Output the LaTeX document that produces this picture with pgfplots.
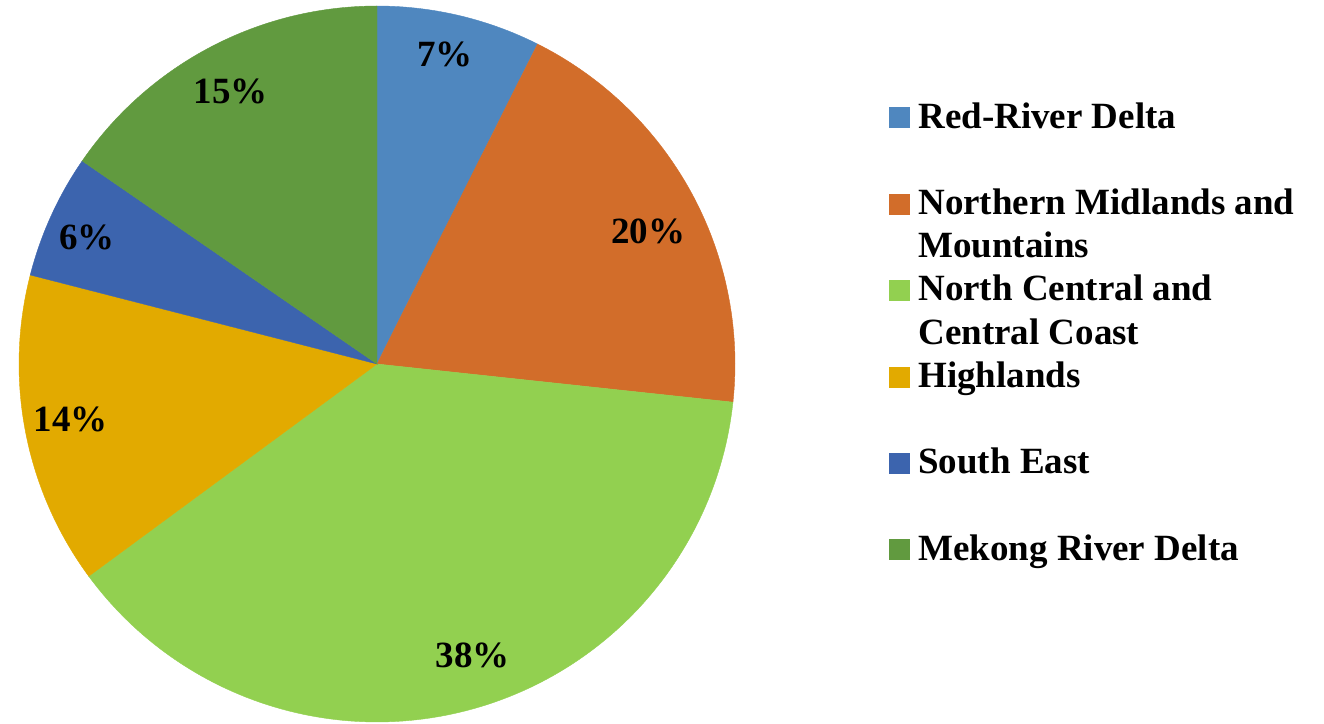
\documentclass[border=0pt]{standalone}
\usepackage{pgfplots}
\pgfplotsset{compat=1.18}
\usepackage{pgfplotstable}
\usepackage{fontspec}
\setmainfont{Liberation Serif}

\definecolor{rrd}{HTML}{4F87BF}
\definecolor{nmm}{HTML}{D26D2A}
\definecolor{ncc}{HTML}{92D050}
\definecolor{hl}{HTML}{E2AA00}
\definecolor{se}{HTML}{3C64AE}
\definecolor{mrd}{HTML}{619A3F}

% shares in percent, clockwise from 12 o'clock
\pgfplotstableread{
region share
RRD 7.4
NMM 19.3
NCC 38.2
HL 14.1
SE 5.6
MRD 15.4
}\shares
\pgfplotstableread{
x y label
0.190 0.866 7
0.757 0.369 20
0.268 -0.813 38
-0.855 -0.154 14
-0.810 0.353 6
-0.408 0.760 15
}\labels

% slice boundaries (degrees)
\pgfplotstablegetelem{0}{share}\of\shares \pgfmathsetmacro\bA{90-3.6*\pgfplotsretval}
\pgfplotstablegetelem{1}{share}\of\shares \pgfmathsetmacro\bB{\bA-3.6*\pgfplotsretval}
\pgfplotstablegetelem{2}{share}\of\shares \pgfmathsetmacro\bC{\bB-3.6*\pgfplotsretval}
\pgfplotstablegetelem{3}{share}\of\shares \pgfmathsetmacro\bD{\bC-3.6*\pgfplotsretval}
\pgfplotstablegetelem{4}{share}\of\shares \pgfmathsetmacro\bE{\bD-3.6*\pgfplotsretval}

\begin{document}
\begin{tikzpicture}
\begin{axis}[
    at={(188.5bp,180bp)}, anchor=center,
    x=179bp, y=179bp,
    xmin=-1, xmax=1, ymin=-1, ymax=1,
    hide axis, enlargelimits=false, clip=false,
    legend cell align=left,
    legend image code/.code={\fill[#1] (0bp,-5bp) rectangle (10bp,5bp);},
    legend style={at={(1.215,0.8687)}, anchor=north west,
        draw=none, fill=none, inner sep=0pt, outer sep=0pt,
        row sep=25.7bp, column sep=4.5bp,
        font=\fontsize{18.5bp}{21.6bp}\selectfont\bfseries,
        nodes={inner sep=0pt, outer sep=0pt, text height=14bp, text depth=3.5bp}},
]
\addplot[fill=rrd, draw=rrd, line width=0.2pt, domain=\bA:90, samples=60, variable=\t]
    ({cos(\t)},{sin(\t)}) -- (axis cs:0,0) -- cycle;
\addlegendentry{Red-River Delta}
\addplot[fill=nmm, draw=nmm, line width=0.2pt, domain=\bB:\bA, samples=80, variable=\t]
    ({cos(\t)},{sin(\t)}) -- (axis cs:0,0) -- cycle;
\addlegendentry{\vtop{\hbox{Northern Midlands and}\hbox{Mountains}}}
\addplot[fill=ncc, draw=ncc, line width=0.2pt, domain=\bC:\bB, samples=120, variable=\t]
    ({cos(\t)},{sin(\t)}) -- (axis cs:0,0) -- cycle;
\addlegendentry{\vtop{\hbox{North Central and}\hbox{Central Coast}}}
\addplot[fill=hl, draw=hl, line width=0.2pt, domain=\bD:\bC, samples=60, variable=\t]
    ({cos(\t)},{sin(\t)}) -- (axis cs:0,0) -- cycle;
\addlegendentry{Highlands}
\addplot[fill=se, draw=se, line width=0.2pt, domain=\bE:\bD, samples=40, variable=\t]
    ({cos(\t)},{sin(\t)}) -- (axis cs:0,0) -- cycle;
\addlegendentry{South East}
\addplot[fill=mrd, draw=mrd, line width=0.2pt, domain=-270:\bE, samples=60, variable=\t]
    ({cos(\t)},{sin(\t)}) -- (axis cs:0,0) -- cycle;
\addlegendentry{Mekong River Delta}

\addplot[forget plot, draw=none, mark=none,
    point meta=explicit symbolic,
    nodes near coords={\pgfplotspointmeta\%},
    every node near coord/.append style={anchor=center, inner sep=0pt, text=black,
        font=\fontsize{18.5bp}{21bp}\selectfont\bfseries}]
    table[meta=label] {\labels};
\end{axis}
\pgfresetboundingbox
\useasboundingbox (0,0) rectangle (662bp,362bp);
\end{tikzpicture}%
\end{document}
